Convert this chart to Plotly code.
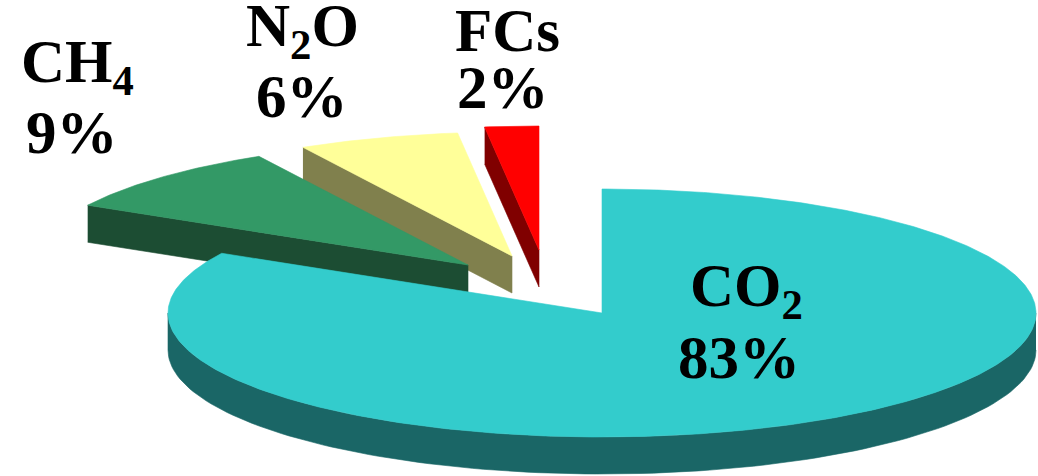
import numpy as np
import plotly.graph_objects as go

# ---- data ----
gases = ["CO<sub>2</sub>", "CH<sub>4</sub>", "N<sub>2</sub>O", "FCs"]
shares = [83, 9, 6, 2]
pct_labels = ["83%", "9%", "6%", "2%"]

# ---- style ----
top_colors = ["#33CCCC", "#339966", "#FFFF99", "#FF0000"]
side_colors = ["#1A6666", "#1C4D33", "#80804D", "#800000"]
explode_px = [(0, 0), (-134, -48), (-90, -57), (-63, -63)]   # screen offsets of exploded slices
label_pos = [((746, 290), (739, 357)), ((77, 66), (72, 132)),
             ((302, 30), (302, 96)), ((507, 30), (503, 87))]
CX, CY, RX, RY, H = 602, 313, 434, 124, 37
FONT = dict(family="Liberation Serif, Times New Roman, serif", size=61, color="black", weight="bold")

fig = go.Figure()

def pt(theta_deg, ox, oy, dz=0.0):
    t = np.radians(theta_deg)
    return CX + ox + RX * np.sin(t), CY + oy - RY * np.cos(t) + dz

def poly(xs, ys, color):
    fig.add_trace(go.Scatter(x=list(xs), y=list(ys), fill="toself", mode="lines",
                             line=dict(color=color, width=0.6), fillcolor=color,
                             hoverinfo="skip", showlegend=False))

total = float(sum(shares))
starts = np.cumsum([0] + shares[:-1]) / total * 360.0
ends = np.cumsum(shares) / total * 360.0

# draw back-to-front: smallest (back) slices first, CO2 last
order = list(range(len(shares)))[::-1]
for i in order:
    a, b = starts[i], ends[i]
    ox, oy = explode_px[i]
    ax, ay = CX + ox, CY + oy
    # radial faces
    for edge, normal in ((a, a - 90), (b, b + 90)):
        if np.cos(np.radians(normal)) < -1e-6:
            px, py = pt(edge, ox, oy)
            poly([px, ax, ax, px], [py, ay, ay + H, py + H], side_colors[i])
    # outer rim face (front half: 90..270)
    lo, hi = max(a, 90), min(b, 270)
    if hi > lo:
        th = np.linspace(lo, hi, 120)
        xs = [pt(t, ox, oy)[0] for t in th]
        ys = [pt(t, ox, oy)[1] for t in th]
        poly(xs + xs[::-1], ys + [y + H for y in ys[::-1]], side_colors[i])
    # top face
    th = np.linspace(a, b, max(4, int((b - a) * 2)))
    xs = [ax] + [pt(t, ox, oy)[0] for t in th] + [ax]
    ys = [ay] + [pt(t, ox, oy)[1] for t in th] + [ay]
    poly(xs, ys, top_colors[i])

annotations = []
for i in range(len(shares)):
    (nx, ny), (qx, qy) = label_pos[i]
    annotations.append(dict(x=nx, y=ny, xref="x", yref="y", text=gases[i], showarrow=False,
                            xanchor="center", yanchor="middle", font=FONT))
    annotations.append(dict(x=qx, y=qy, xref="x", yref="y", text=pct_labels[i], showarrow=False,
                            xanchor="center", yanchor="middle", font=FONT))

fig.update_layout(
    width=1038, height=476, margin=dict(l=0, r=0, t=0, b=0),
    paper_bgcolor="white", plot_bgcolor="white",
    xaxis=dict(range=[0, 1038], visible=False, fixedrange=True),
    yaxis=dict(range=[476, 0], visible=False, fixedrange=True),
    annotations=annotations, showlegend=False,
)
fig.write_html("out.html")
